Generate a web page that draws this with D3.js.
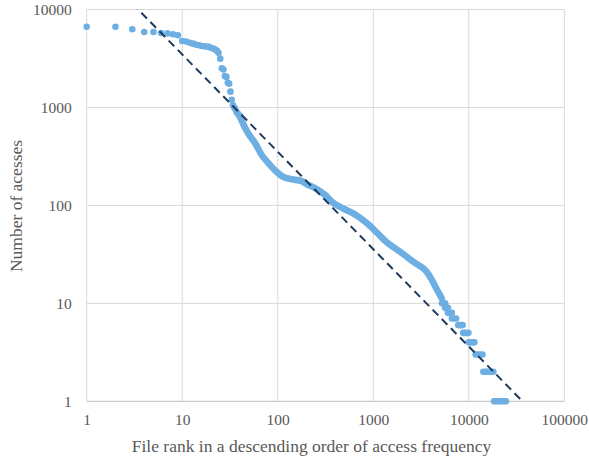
<!DOCTYPE html>
<html>
<head>
<meta charset="utf-8">
<script src="https://cdn.jsdelivr.net/npm/d3@7"></script>
<style>
  body { margin: 0; background: #fff; }
</style>
</head>
<body>
<svg id="chart" width="589" height="459"></svg>
<script>
// Tick values
var xTicks = [1, 10, 100, 1000, 10000, 100000];
var yTicks = [1, 10, 100, 1000, 10000];

// Individual files at the head of the ranking
var headRanks = [1, 2, 3, 4, 5, 6, 7, 8, 9, 10, 11, 12, 13, 14, 15, 16, 17, 18, 19, 20,
  21, 22, 23, 24, 25, 26, 27, 28, 29, 30, 31, 32, 33, 34, 35, 36, 37, 38, 39, 40];
var headCounts = [6670, 6670, 6280, 5890, 5890, 5750, 5700, 5590, 5450, 4770, 4720, 4580,
  4480, 4370, 4310, 4240, 4210, 4180, 4150, 4070, 4000, 3930, 3800, 3620, 3150, 2510,
  2440, 2090, 2050, 1790, 1750, 1450, 1200, 1050, 1000, 960, 900, 870, 840, 820];

// Body of the ranking (points so close they merge into a band)
var bodyRanks = [40, 44, 49, 58, 68, 80, 97, 114, 140, 178, 201, 245, 312, 382, 486,
  671, 854, 1086, 1384, 1905, 2625, 3625, 4050, 4500, 5200];
var bodyCounts = [820, 662, 545, 431, 327, 269, 221, 196, 185, 177, 165, 150, 128, 106,
  93, 79, 66, 53, 42, 33.7, 26.6, 21, 17.8, 14.6, 11.3];

// Tail: runs of files sharing the same small access count
var tailCounts = [10, 9, 8, 7, 6, 5, 4, 3, 2, 1];
var tailStart = [5250, 5650, 6050, 6650, 7750, 8750, 10000, 11800, 14200, 18400];
var tailEnd = [5650, 6050, 6650, 7350, 8630, 9910, 11450, 13900, 18100, 24500];

// Power-law trend line: count = trendCoef * rank ^ trendExp
var trendCoef = 34300;
var trendExp = -0.994;
var trendRange = [1, 100000];

var svg = d3.select("#chart");
var margin = { left: 86.7, top: 9.5 };
var width = 477.6, height = 391.8;
var dotColor = "#6dafe3";
var font = "'Liberation Serif', 'Times New Roman', 'DejaVu Serif', serif";

var g = svg.append("g").attr("transform", "translate(" + margin.left + "," + margin.top + ")");

var x = d3.scaleLog().domain([1, 100000]).range([0, width]);
var y = d3.scaleLog().domain([1, 10000]).range([height, 0]);

// grid
g.append("g").selectAll("line").data(xTicks).join("line")
  .attr("x1", d => x(d)).attr("x2", d => x(d))
  .attr("y1", 0).attr("y2", height)
  .attr("stroke", "#d9d9d9").attr("stroke-width", 1);
g.append("g").selectAll("line").data(yTicks).join("line")
  .attr("x1", 0).attr("x2", width)
  .attr("y1", d => y(d)).attr("y2", d => y(d))
  .attr("stroke", d => d === 1 ? "#bfbfbf" : "#d9d9d9").attr("stroke-width", 1);

// axes (labels only)
var xAxis = g.append("g").attr("transform", "translate(0," + height + ")")
  .call(d3.axisBottom(x).tickValues(xTicks).tickFormat(d3.format("d")).tickSize(0).tickPadding(13));
var yAxis = g.append("g")
  .call(d3.axisLeft(y).tickValues(yTicks).tickFormat(d3.format("d")).tickSize(0).tickPadding(15));
[xAxis, yAxis].forEach(function(a) {
  a.attr("font-family", font);
  a.select(".domain").remove();
  a.selectAll("text").attr("font-size", "15.5px")
    .attr("font-family", font).attr("fill", "#595959");
});

// body band
var line = d3.line().x(d => x(d[0])).y(d => y(d[1]));
g.append("path")
  .datum(d3.zip(bodyRanks, bodyCounts))
  .attr("d", line.curve(d3.curveMonotoneX))
  .attr("fill", "none").attr("stroke", dotColor)
  .attr("stroke-width", 6.6).attr("stroke-linecap", "round").attr("stroke-linejoin", "round");

// tail runs
g.append("g").selectAll("line").data(tailCounts).join("line")
  .attr("x1", (d, i) => x(tailStart[i])).attr("x2", (d, i) => x(tailEnd[i]))
  .attr("y1", d => y(d)).attr("y2", d => y(d))
  .attr("stroke", dotColor).attr("stroke-width", 6.6).attr("stroke-linecap", "round");

// head dots
g.append("g").selectAll("circle").data(headRanks).join("circle")
  .attr("cx", d => x(d)).attr("cy", (d, i) => y(headCounts[i]))
  .attr("r", 3.3).attr("fill", dotColor);

// trend line, clipped to plot
svg.append("clipPath").attr("id", "plotClip").append("rect")
  .attr("width", width).attr("height", height);
var trendLine = d3.line().x(d => x(d[0])).y(d => y(d[1]));
g.append("path")
  .datum(trendRange.map(r => [r, trendCoef * Math.pow(r, trendExp)]))
  .attr("d", trendLine)
  .attr("clip-path", "url(#plotClip)")
  .attr("fill", "none").attr("stroke", "#1f3a5c")
  .attr("stroke-width", 2).attr("stroke-dasharray", "8,5");

// axis titles
svg.append("text")
  .attr("x", margin.left + width / 2 - 14).attr("y", 452)
  .attr("text-anchor", "middle").attr("font-size", "17.5px")
  .attr("font-family", font).attr("fill", "#595959")
  .text("File rank in a descending order of access frequency");
svg.append("text")
  .attr("transform", "translate(22," + 206 + ") rotate(-90)")
  .attr("text-anchor", "middle").attr("font-size", "17.5px")
  .attr("font-family", font).attr("fill", "#595959")
  .text("Number of acesses");
</script>
</body>
</html>
